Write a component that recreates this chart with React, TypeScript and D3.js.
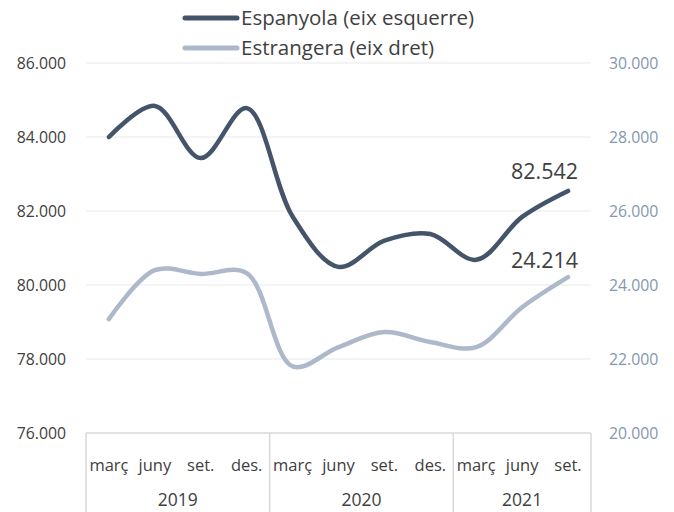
import React, { useEffect, useRef } from 'react'
import * as d3 from 'd3'

const months = ['març', 'juny', 'set.', 'des.', 'març', 'juny', 'set.', 'des.', 'març', 'juny', 'set.']
const years = [
  { label: '2019', n: 4 },
  { label: '2020', n: 4 },
  { label: '2021', n: 3 },
]
const espanyola = [84000, 84840, 83430, 84780, 81850, 80490, 81200, 81380, 80680, 81840, 82542]
const estrangera = [23080, 24400, 24300, 24320, 21800, 22320, 22730, 22460, 22320, 23400, 24214]
const leftTicks = [76000, 78000, 80000, 82000, 84000, 86000]
const rightTicks = [20000, 22000, 24000, 26000, 28000, 30000]

const fmt = (v: number) => d3.format(',.0f')(v).replace(/,/g, '.')

export default function App() {
  const svgRef = useRef<SVGSVGElement>(null)

  useEffect(() => {
    const width = 674
    const height = 512
    const margin = { left: 86, right: 83, top: 63, bottom: 79 }
    const font = "'Open Sans', sans-serif"
    const dark = '#44546A'
    const light = '#ADB9CA'

    const svg = d3.select(svgRef.current)
    svg.selectAll('*').remove()
    svg.attr('width', width).attr('height', height)

    const x = d3.scaleBand<number>()
      .domain(d3.range(months.length))
      .range([margin.left, width - margin.right])
      .padding(0)
    const yL = d3.scaleLinear().domain([76000, 86000]).range([height - margin.bottom, margin.top])
    const yR = d3.scaleLinear().domain([20000, 30000]).range([height - margin.bottom, margin.top])
    const cx = (i: number) => (x(i) as number) + x.bandwidth() / 2

    // gridlines
    svg.append('g').selectAll('line')
      .data(leftTicks.slice(1))
      .join('line')
      .attr('x1', margin.left).attr('x2', width - margin.right)
      .attr('y1', d => yL(d)).attr('y2', d => yL(d))
      .attr('stroke', '#F0F0F0').attr('stroke-width', 1.5)

    // left ticks
    svg.append('g').selectAll('text')
      .data(leftTicks)
      .join('text')
      .attr('x', 66).attr('y', d => yL(d)).attr('dy', '0.35em')
      .attr('text-anchor', 'end')
      .attr('font-family', font).attr('font-size', 15.8)
      .attr('fill', '#404040')
      .text(fmt)

    // right ticks
    svg.append('g').selectAll('text')
      .data(rightTicks)
      .join('text')
      .attr('x', 609).attr('y', d => yR(d)).attr('dy', '0.35em')
      .attr('text-anchor', 'start')
      .attr('font-family', font).attr('font-size', 15.8)
      .attr('fill', '#8497B0')
      .text(fmt)

    // category axis box
    const axisY = height - margin.bottom
    const ax = svg.append('g').attr('stroke', '#D9D9D9').attr('stroke-width', 1.5)
    ax.append('line')
      .attr('x1', margin.left).attr('x2', width - margin.right)
      .attr('y1', axisY).attr('y2', axisY)
    let idx = 0
    const bounds: number[] = [0]
    years.forEach(y => { idx += y.n; bounds.push(idx) })
    ax.selectAll('line.div')
      .data(bounds)
      .join('line')
      .attr('class', 'div')
      .attr('x1', d => margin.left + d * x.bandwidth())
      .attr('x2', d => margin.left + d * x.bandwidth())
      .attr('y1', axisY).attr('y2', height)

    svg.append('g').selectAll('text')
      .data(months)
      .join('text')
      .attr('x', (_, i) => cx(i)).attr('y', 471)
      .attr('text-anchor', 'middle')
      .attr('font-family', font).attr('font-size', 16.5)
      .attr('fill', '#404040')
      .text(d => d)

    svg.append('g').selectAll('text')
      .data(years)
      .join('text')
      .attr('x', (d, i) => margin.left + (bounds[i] + d.n / 2) * x.bandwidth())
      .attr('y', 506)
      .attr('text-anchor', 'middle')
      .attr('font-family', font).attr('font-size', 17.5)
      .attr('fill', '#404040')
      .text(d => d.label)

    // lines
    const lineL = d3.line<number>().x((_, i) => cx(i)).y(d => yL(d)).curve(d3.curveCatmullRom.alpha(0.5))
    const lineR = d3.line<number>().x((_, i) => cx(i)).y(d => yR(d)).curve(d3.curveCatmullRom.alpha(0.5))

    svg.append('path').datum(estrangera)
      .attr('fill', 'none').attr('stroke', light).attr('stroke-width', 4.5)
      .attr('stroke-linecap', 'round').attr('stroke-linejoin', 'round')
      .attr('d', lineR)
    svg.append('path').datum(espanyola)
      .attr('fill', 'none').attr('stroke', dark).attr('stroke-width', 4.5)
      .attr('stroke-linecap', 'round').attr('stroke-linejoin', 'round')
      .attr('d', lineL)

    // end labels
    const last = months.length - 1
    svg.append('text')
      .attr('x', cx(last) + 10).attr('y', yL(espanyola[last]) - 12)
      .attr('text-anchor', 'end')
      .attr('font-family', font).attr('font-size', 21.5)
      .attr('fill', '#404040')
      .text(fmt(espanyola[last]))
    svg.append('text')
      .attr('x', cx(last) + 10).attr('y', yR(estrangera[last]) - 9)
      .attr('text-anchor', 'end')
      .attr('font-family', font).attr('font-size', 21.5)
      .attr('fill', '#404040')
      .text(fmt(estrangera[last]))

    // legend
    const legend = [
      { label: 'Espanyola (eix esquerre)', color: dark },
      { label: 'Estrangera (eix dret)', color: light },
    ]
    const lg = svg.append('g')
    legend.forEach((d, i) => {
      const yy = 18 + i * 30
      lg.append('line')
        .attr('x1', 185).attr('x2', 237).attr('y1', yy).attr('y2', yy)
        .attr('stroke', d.color).attr('stroke-width', 5).attr('stroke-linecap', 'round')
      lg.append('text')
        .attr('x', 241).attr('y', yy).attr('dy', '0.35em')
        .attr('font-family', font).attr('font-size', 20.5)
        .attr('fill', '#404040')
        .text(d.label)
    })
  }, [])

  return (
    <div style={{ position: 'absolute', left: 0, top: 0 }}>
      <svg ref={svgRef}></svg>
    </div>
  )
}
